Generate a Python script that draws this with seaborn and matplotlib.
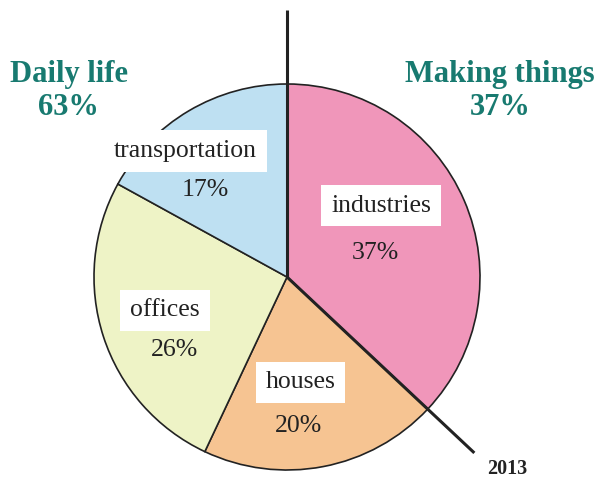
import numpy as np
import matplotlib.pyplot as plt
import seaborn as sns

# data
sectors = ['industries', 'houses', 'offices', 'transportation']
shares = [37, 20, 26, 17]
colors = ['#F096BA', '#F6C492', '#EEF3C6', '#BEE0F2']
groups = ['Daily life', 'Making things']
group_shares = [63, 37]
year = '2013'

sns.set_theme(style='white')
plt.rcParams['font.family'] = ['Liberation Serif', 'DejaVu Serif']

fig = plt.figure(figsize=(6.02, 4.79), dpi=100)
ax = fig.add_axes([0, 0, 1, 1])

cx, cy, r = 287, 202, 193
ax.pie(shares, colors=colors, startangle=90, counterclock=False,
       center=(cx, cy), radius=r, frame=True,
       wedgeprops=dict(edgecolor='#222222', linewidth=1.2))
ax.set_xlim(0, 602)
ax.set_ylim(0, 479)
ax.set_aspect('equal')
ax.axis('off')

# divider lines
ax.plot([cx, cx], [cy, 469], color='#222222', lw=2.2, solid_capstyle='butt')
ang = np.deg2rad(90 - 360 * shares[0] / 100)
L = 257
ax.plot([cx, cx + L * np.cos(ang)], [cy, cy + L * np.sin(ang)],
        color='#222222', lw=2.2, solid_capstyle='butt')

# slice labels (offsets from pie centre, in pixels)
name_pos = [(94, 71.5), (13.5, -105.5), (-122, -33.5), (-101.5, 126)]
pct_pos = [(88, 24), (11.5, -149), (-113, -73), (-82, 87)]
box = dict(boxstyle='square,pad=0.38', facecolor='white', edgecolor='none')
for s, v, (nx, ny), (px, py) in zip(sectors, shares, name_pos, pct_pos):
    ax.text(cx + nx, cy + ny, s, ha='center', va='center', fontsize=18.5,
            color='#222222', bbox=box)
    ax.text(cx + px, cy + py, f'{v}%', ha='center', va='center',
            fontsize=18.5, color='#222222')

teal = '#187A70'
ax.text(68.5, 388, f'{groups[0]}\n{group_shares[0]}%', ha='center', va='center',
        fontsize=22, fontweight='bold', color=teal, linespacing=1.2)
ax.text(500, 388, f'{groups[1]}\n{group_shares[1]}%', ha='center', va='center',
        fontsize=22, fontweight='bold', color=teal, linespacing=1.2)

ax.text(507, 10, year, ha='center', va='center', fontsize=14.5,
        fontweight='bold', color='#222222')

fig.savefig('out.png', dpi=100)
